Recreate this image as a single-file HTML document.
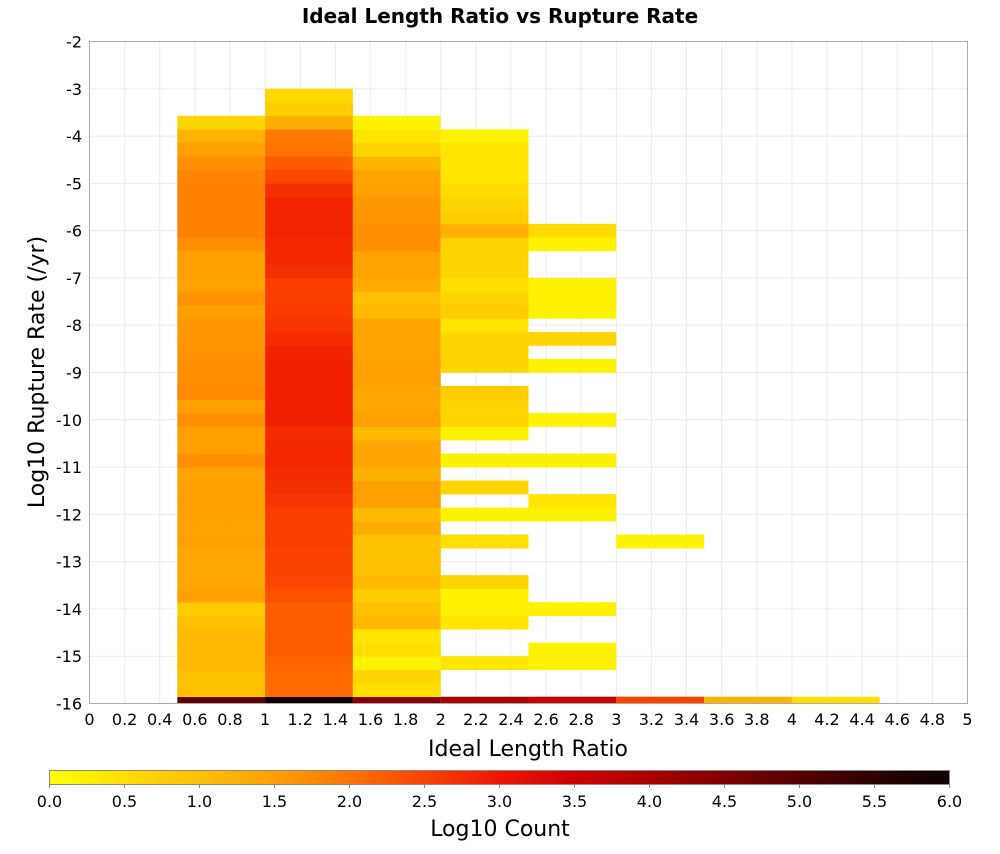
<!DOCTYPE html>
<html><head><meta charset="utf-8"><style>
body{margin:0;background:#fff;font-family:"DejaVu Sans","Liberation Sans",sans-serif;}
svg text{fill:#000;}
</style></head><body>
<svg id="chart" width="1000" height="850" xmlns="http://www.w3.org/2000/svg">
<defs><linearGradient id="cbar" x1="0" x2="1" y1="0" y2="0"></linearGradient></defs>
<text x="500" y="23" text-anchor="middle" font-size="20" font-weight="bold">Ideal Length Ratio vs Rupture Rate</text>
<g id="grid"></g>
<g id="cells"></g>
<rect x="89.5" y="41.5" width="878" height="662" fill="none" stroke="#aaa"/>
<g id="xticks"></g><g id="yticks"></g>
<text x="528" y="756" text-anchor="middle" font-size="22">Ideal Length Ratio</text>
<text transform="translate(44,372) rotate(-90)" text-anchor="middle" font-size="22">Log10 Rupture Rate (/yr)</text>
<rect x="49.5" y="770.5" width="900" height="14" fill="url(#cbar)" stroke="#888"/>
<g id="cticks"></g>
<text x="500" y="836" text-anchor="middle" font-size="22">Log10 Count</text>
</svg>
<script>
// x bin starts (width 0.5); y bin index j -> center -16 + j*2/7
const xBins = [0.5, 1.0, 1.5, 2.0, 2.5, 3.0, 3.5, 4.0];
// values listed from j=0 (bottom) upward; null = empty
const col05 = [4.9,1.0,1.0,1.1,1.1,1.1,1.0,0.8,1.5,1.4,1.4,1.4,1.5,1.45,1.5,1.5,1.5,1.45,1.7,1.5,1.5,1.7,1.5,1.75,1.7,1.7,1.65,1.6,1.6,1.5,1.65,1.45,1.5,1.5,1.7,1.85,1.85,1.85,1.85,1.8,1.7,1.5,1.2,0.65];
const col10 = [6.0,2.1,2.1,2.15,2.2,2.2,2.2,2.2,2.35,2.45,2.5,2.5,2.55,2.55,2.55,2.65,2.7,2.75,2.8,2.8,2.75,2.9,2.9,2.9,2.9,2.9,2.85,2.75,2.65,2.6,2.55,2.55,2.7,2.8,2.8,2.85,2.85,2.85,2.7,2.45,2.25,2.0,1.95,1.3,0.8,0.6];
const col15 = [4.4,0.5,0.65,0.2,0.5,0.4,1.1,1.0,0.8,1.1,1.0,1.0,1.0,1.3,1.1,1.5,1.5,1.25,1.45,1.4,1.1,1.5,1.4,1.4,1.5,1.5,1.45,1.45,1.45,1.1,1.0,1.35,1.45,1.45,1.7,1.7,1.6,1.6,1.5,1.45,1.15,0.65,0.4,0.2];
const col20 = [3.9,null,null,0.4,null,null,0.4,0.2,0.2,0.65,null,null,0.5,null,0.2,null,0.65,null,0.2,null,0.2,0.65,0.65,0.8,null,0.65,0.65,0.65,0.4,0.8,0.65,0.5,0.65,0.65,0.65,1.25,0.8,0.65,0.55,0.4,0.4,0.4,0.2];
const col25 = [3.5,null,null,0.2,0.2,null,null,0.2,null,null,null,null,null,null,0.2,0.4,null,null,0.2,null,null,0.2,null,null,null,0.2,null,0.65,null,0.2,0.2,0.2,null,null,0.2,0.55];
const col30 = [2.5,null,null,null,null,null,null,null,null,null,null,null,0.2];
const col35 = [1.2];
const col40 = [0.5];
const columns = [col05,col10,col15,col20,col25,col30,col35,col40];
const xTickLabels = ["0","0.2","0.4","0.6","0.8","1","1.2","1.4","1.6","1.8","2","2.2","2.4","2.6","2.8","3","3.2","3.4","3.6","3.8","4","4.2","4.4","4.6","4.8","5"];
const yTickLabels = ["-2","-3","-4","-5","-6","-7","-8","-9","-10","-11","-12","-13","-14","-15","-16"];
const cTickLabels = ["0.0","0.5","1.0","1.5","2.0","2.5","3.0","3.5","4.0","4.5","5.0","5.5","6.0"];
const colorStops = [[0,255,255,0],[0.5,255,222,0],[1,255,192,0],[1.5,255,160,0],[2,255,115,0],[2.5,250,66,0],[3,238,22,0],[3.5,205,0,0],[4,170,0,0],[4.5,128,0,0],[5,85,0,0],[5.5,45,0,0],[6,10,0,0]];

const NS="http://www.w3.org/2000/svg";
const X0=89.5,X1=967.5,Y0=41.5,Y1=703.5;
const sx=v=>X0+(v-0)/(5-0)*(X1-X0);
const sy=v=>Y0+(-2-v)/(14)*(Y1-Y0);
function color(v){
  for(let i=1;i<colorStops.length;i++){
    if(v<=colorStops[i][0]){const a=colorStops[i-1],b=colorStops[i];const t=(v-a[0])/(b[0]-a[0]);
      return `rgb(${Math.round(a[1]+(b[1]-a[1])*t)},${Math.round(a[2]+(b[2]-a[2])*t)},${Math.round(a[3]+(b[3]-a[3])*t)})`;}
  }
  return "rgb(10,0,0)";
}
function mk(tag,attrs,parent){const e=document.createElementNS(NS,tag);for(const k in attrs)e.setAttribute(k,attrs[k]);document.getElementById(parent).appendChild(e);return e;}
// grid
for(let i=0;i<xTickLabels.length;i++){const v=parseFloat(xTickLabels[i]);
  const l=mk('line',{x1:sx(v),x2:sx(v),y1:Y0,y2:Y1,stroke:'#ebebeb'},'grid');
  
  
  const t=mk('text',{x:sx(v),y:725,'text-anchor':'middle','font-size':16},'xticks');t.textContent=xTickLabels[i];
  
  
}
for(let i=0;i<yTickLabels.length;i++){const v=parseFloat(yTickLabels[i]);
  const l=mk('line',{x1:X0,x2:X1,y1:sy(v),y2:sy(v),stroke:'#ebebeb'},'grid');
  
  
  const t=mk('text',{x:82,y:sy(v)+6,'text-anchor':'end','font-size':16},'yticks');t.textContent=yTickLabels[i];
  
  
}
// cells
const h=2/7;
columns.forEach((col,ci)=>{const xa=xBins[ci];
  col.forEach((v,j)=>{if(v===null)return;
    const c=-16+j*h;const top=c+h/2;const bot=Math.max(-16,c-h/2);
    const r=mk('rect',{x:sx(xa),y:sy(top),width:sx(xa+0.5)-sx(xa),height:sy(bot)-sy(top)+0.3,fill:color(v)},'cells');
    
    
  });
});
// colorbar
const g=document.getElementById('cbar');
colorStops.forEach(s=>{const st=document.createElementNS(NS,'stop');st.setAttribute('offset',(s[0]/6*100)+'%');st.setAttribute('stop-color',`rgb(${s[1]},${s[2]},${s[3]})`);g.appendChild(st);});
cTickLabels.forEach(lab=>{const v=parseFloat(lab);const x=49.5+v/6*900;
  const tk=mk('line',{x1:x,x2:x,y1:784.5,y2:788,stroke:'#888'},'cticks');
  
  
  const t=mk('text',{x:x,y:807,'text-anchor':'middle','font-size':16},'cticks');t.textContent=lab;
  
  
});
</script>
</body></html>
